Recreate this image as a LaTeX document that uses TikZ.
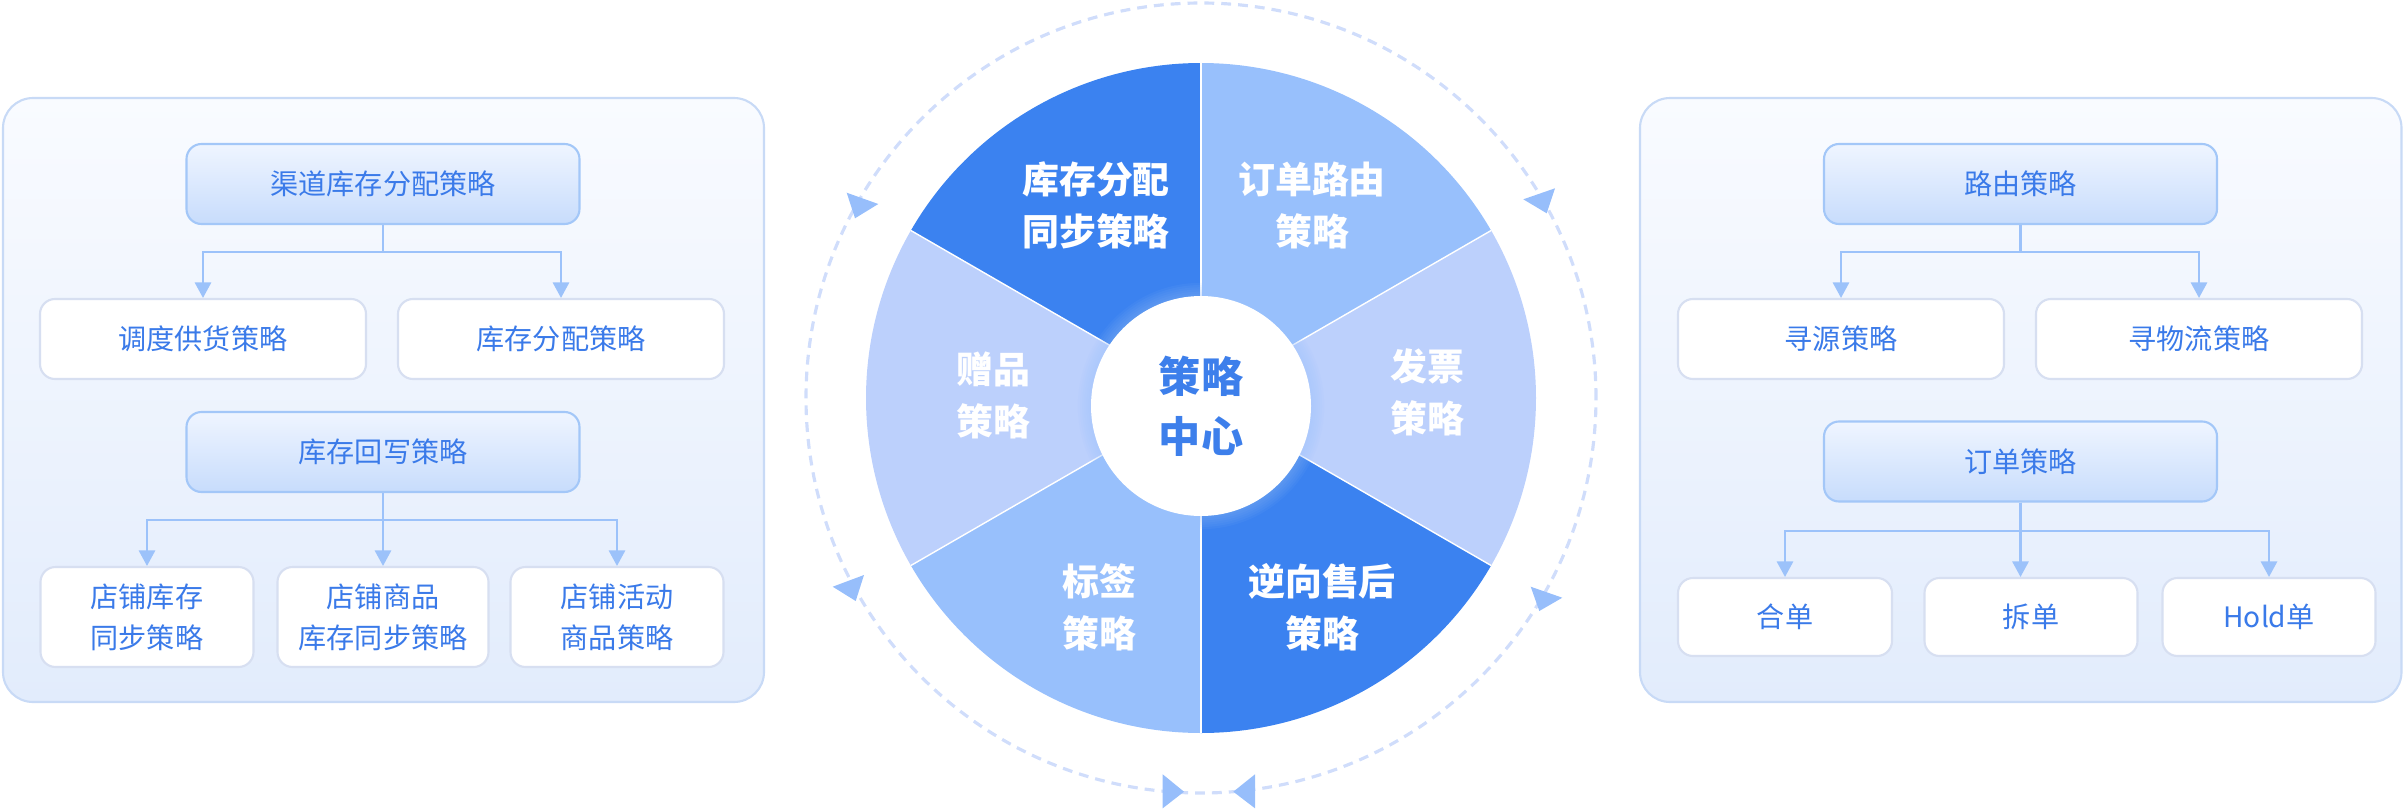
\documentclass[tikz,border=0pt]{standalone}
\usepackage{fontspec}
\setmainfont{Noto Sans CJK SC}
\usetikzlibrary{arrows.meta}

\definecolor{secdark}{HTML}{3B82F0}
\definecolor{seclight}{HTML}{98C0FC}
\definecolor{secpale}{HTML}{BCD0FC}
\definecolor{txtblue}{HTML}{3A7AE9}
\definecolor{hubblue}{HTML}{3D7FEB}
\definecolor{linkblue}{HTML}{9CC2FA}
\definecolor{ringblue}{HTML}{D0DDFB}
\definecolor{triblue}{HTML}{97BEFB}
\definecolor{panelline}{HTML}{C8DAF6}
\definecolor{paneltop}{HTML}{F9FBFF}
\definecolor{panelbot}{HTML}{E2ECFC}
\definecolor{headtop}{HTML}{EFF5FF}
\definecolor{headbot}{HTML}{C7DCFC}
\definecolor{headline}{HTML}{A3C7F8}
\definecolor{boxline}{HTML}{D7DFF1}

\begin{document}
\begin{tikzpicture}[
    panel/.style={draw=panelline, line width=0.6pt, rounded corners=0.3cm, top color=paneltop, bottom color=panelbot},
    headbox/.style={draw=headline, line width=0.6pt, rounded corners=0.15cm, top color=headtop, bottom color=headbot,
      text=txtblue, font={\fontsize{8}{11.7}\selectfont}, minimum width=3.93cm, minimum height=0.8cm, inner sep=0pt},
    leafbox/.style={draw=boxline, line width=0.6pt, fill=white, rounded corners=0.15cm,
      text=txtblue, font={\fontsize{8}{11.7}\selectfont}, align=center, inner sep=0pt},
    link/.style={draw=linkblue, line width=0.6pt, -{Triangle[width=4.6pt,length=4.4pt]}},
    wheeltext/.style={text=white, font={\bfseries\fontsize{10.5}{14.8}\selectfont}, align=center},
  ]
  \useasboundingbox (0,0) rectangle (24.04,8.10);

  % left panel
  \draw[panel] (0.03,1.08) rectangle (7.64,7.12);
  \node[headbox] (chanAlloc) at (3.83,6.26) {渠道库存分配策略};
  \node[leafbox, minimum width=3.26cm, minimum height=0.8cm] (dispatch) at (2.03,4.71) {调度供货策略};
  \node[leafbox, minimum width=3.26cm, minimum height=0.8cm] (stockAlloc) at (5.61,4.71) {库存分配策略};
  \node[headbox] (writeBack) at (3.83,3.58) {库存回写策略};
  \node[leafbox, minimum width=2.13cm, minimum height=1.0cm] (shopStock) at (1.47,1.93) {店铺库存\\同步策略};
  \node[leafbox, minimum width=2.11cm, minimum height=1.0cm] (shopGoods) at (3.83,1.93) {店铺商品\\库存同步策略};
  \node[leafbox, minimum width=2.13cm, minimum height=1.0cm] (shopPromo) at (6.17,1.93) {店铺活动\\商品策略};

  \draw[link] (chanAlloc.south) -- ++(0,-0.27) -| (dispatch.north);
  \draw[link] (chanAlloc.south) -- ++(0,-0.27) -| (stockAlloc.north);
  \draw[link] (writeBack.south) -- ++(0,-0.27) -| (shopStock.north);
  \draw[link] (writeBack.south) -- (shopGoods.north);
  \draw[link] (writeBack.south) -- ++(0,-0.27) -| (shopPromo.north);

  % right panel
  \draw[panel] (16.40,1.08) rectangle (24.015,7.12);
  \node[headbox] (routing) at (20.205,6.26) {路由策略};
  \node[leafbox, minimum width=3.26cm, minimum height=0.8cm] (sourcing) at (18.41,4.71) {寻源策略};
  \node[leafbox, minimum width=3.26cm, minimum height=0.8cm] (logistics) at (21.99,4.71) {寻物流策略};
  \node[headbox] (orderStrat) at (20.205,3.485) {订单策略};
  \node[leafbox, minimum width=2.14cm, minimum height=0.78cm] (merge) at (17.85,1.93) {合单};
  \node[leafbox, minimum width=2.13cm, minimum height=0.78cm] (split) at (20.31,1.93) {拆单};
  \node[leafbox, minimum width=2.13cm, minimum height=0.78cm] (hold) at (22.69,1.93) {Hold单};

  \draw[link] (routing.south) -- ++(0,-0.27) -| (sourcing.north);
  \draw[link] (routing.south) -- ++(0,-0.27) -| (logistics.north);
  \draw[link] (orderStrat.south) -- ++(0,-0.28) -| (merge.north);
  \draw[link] (orderStrat.south) -- (orderStrat.south |- split.north);
  \draw[link] (orderStrat.south) -- ++(0,-0.28) -| (hold.north);

  % wheel
  \coordinate (w) at (12.01,4.12);
  \draw[ringblue, line width=0.9pt, dash pattern=on 2.8pt off 2pt] (w) circle (3.95);
  \foreach \a/\col in {90/secdark, 30/seclight, -30/secpale, -90/secdark, -150/seclight, 150/secpale}
    \fill[\col] (w) -- ++(\a:3.35) arc[start angle=\a, delta angle=60, radius=3.35] -- cycle;
  \foreach \a in {90,30,-30,-90,-150,150}
    \draw[white, line width=0.4pt] (w) -- ++(\a:3.35);

  \node[wheeltext] (wStock) at (10.96,6.05) {库存分配\\同步策略};
  \node[wheeltext] (wRoute) at (13.12,6.05) {订单路由\\策略};
  \node[wheeltext] (wInvoice) at (14.27,4.18) {发票\\策略};
  \node[wheeltext] (wReturn) at (13.22,2.03) {逆向售后\\策略};
  \node[wheeltext] (wLabel) at (10.99,2.03) {标签\\策略};
  \node[wheeltext] (wGift) at (9.93,4.15) {赠品\\策略};

  % hub with soft glow
  \foreach \i in {1,...,6}
    \fill[seclight, opacity=0.07] (12.01,4.04) circle ({1.10+0.022*\i});
  \node[circle, fill=white, minimum size=2.2cm, inner sep=0pt, align=center,
    text=hubblue, font={\bfseries\fontsize{12}{17}\selectfont}] (hub) at (12.01,4.04) {策略\\中心};

  % arrow heads on the ring
  \fill[triblue] (8.467,6.173) -- (8.783,6.06) -- (8.55,5.917) -- cycle;
  \fill[triblue] (15.233,6.107) -- (15.55,6.217) -- (15.467,5.967) -- cycle;
  \fill[triblue] (8.327,2.233) -- (8.64,2.35) -- (8.557,2.09) -- cycle;
  \fill[triblue] (15.307,2.233) -- (15.623,2.123) -- (15.393,1.99) -- cycle;
  \fill[triblue] (11.627,0.357) -- (11.84,0.183) -- (11.627,0.017) -- cycle;
  \fill[triblue] (12.55,0.357) -- (12.333,0.183) -- (12.55,0.017) -- cycle;
\end{tikzpicture}
\end{document}
